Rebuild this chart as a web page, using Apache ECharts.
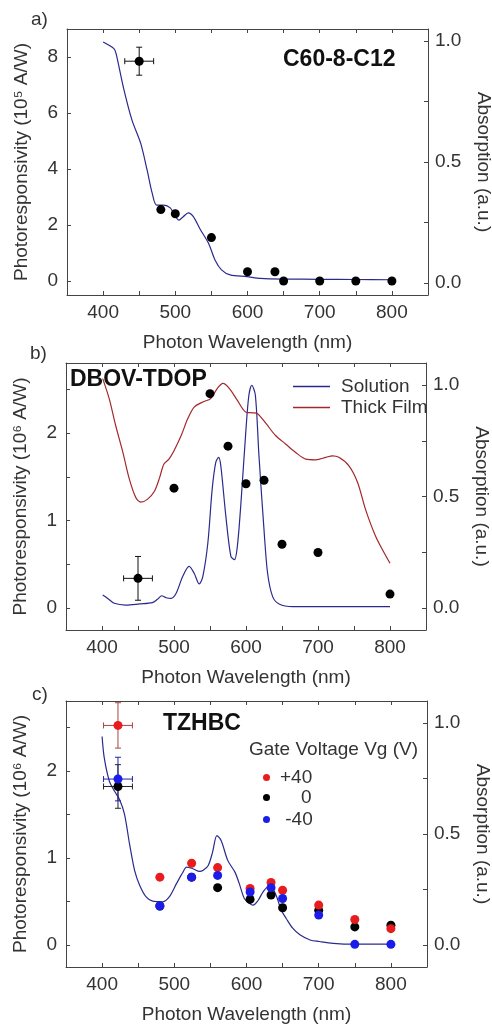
<!DOCTYPE html>
<html>
<head>
<meta charset="utf-8">
<script src="https://cdn.jsdelivr.net/npm/echarts@6/dist/echarts.min.js"></script>
<style>
  html, body { margin: 0; padding: 0; background: #fff; }
  #chart { width: 492px; height: 1025px; }
</style>
</head>
<body>
<div id="chart"></div>
<script>
// ---- panel a: C60-8-C12 ----
const wlA = [450, 480, 500, 550, 600, 638, 650, 700, 750, 800]
const respA = [7.85, 2.55, 2.4, 1.55, 0.33, 0.33, 0, 0, 0, 0]
const errA = [[450, 7.85, 20, 0.5]]
const absWlA = [400, 415, 418, 428, 440, 452, 461, 468, 474, 484, 493, 505, 511, 518, 525, 535, 546, 555, 564, 576, 599, 618, 650, 700, 750, 800]
const absA = [0.996, 0.969, 0.948, 0.81, 0.673, 0.578, 0.466, 0.371, 0.322, 0.322, 0.31, 0.26, 0.274, 0.29, 0.274, 0.219, 0.164, 0.095, 0.054, 0.033, 0.026, 0.019, 0.016, 0.015, 0.014, 0.013]

// ---- panel b: DBOV-TDOP ----
const wlB = [450, 500, 550, 575, 600, 625, 650, 700, 800]
const respB = [0.34, 1.37, 2.45, 1.85, 1.42, 1.46, 0.73, 0.635, 0.16]
const errB = [[450, 0.34, 20, 0.25]]
const solWlB = [401, 408, 417, 433, 452, 470, 477, 483, 489, 496, 503, 512, 521, 528, 535, 540, 547, 553, 558, 562, 565, 572, 579, 584, 588, 593, 600, 604, 608, 613, 618, 625, 630, 637, 646, 665, 720, 800]
const solB = [0.057, 0.042, 0.02, 0.012, 0.017, 0.023, 0.038, 0.054, 0.045, 0.042, 0.065, 0.14, 0.186, 0.155, 0.107, 0.14, 0.291, 0.532, 0.653, 0.676, 0.638, 0.412, 0.231, 0.216, 0.276, 0.472, 0.804, 0.955, 1.0, 0.955, 0.683, 0.351, 0.155, 0.05, 0.017, 0.005, 0.005, 0.005]
const filmWlB = [401, 410, 419, 429, 438, 447, 454, 463, 473, 480, 486, 493, 500, 510, 519, 528, 540, 551, 560, 568, 577, 588, 600, 609, 616, 628, 641, 655, 669, 683, 697, 711, 720, 729, 743, 755, 766, 780, 792, 800]
const filmB = [1.03, 0.94, 0.819, 0.698, 0.578, 0.495, 0.475, 0.487, 0.525, 0.585, 0.646, 0.668, 0.706, 0.774, 0.849, 0.902, 0.925, 0.94, 0.985, 1.008, 0.985, 0.932, 0.879, 0.876, 0.872, 0.827, 0.774, 0.736, 0.698, 0.668, 0.665, 0.676, 0.683, 0.676, 0.638, 0.563, 0.442, 0.321, 0.246, 0.2]

// ---- panel c: TZHBC ----
const wlC = [422, 480, 524, 560, 605, 634, 650, 700, 750, 800]
const posC = [2.52, 0.78, 0.94, 0.89, 0.65, 0.72, 0.63, 0.46, 0.295, 0.19]
const zeroC = [1.82, 0.45, 0.78, 0.66, 0.525, 0.575, 0.43, 0.40, 0.21, 0.23]
const negC = [1.905, 0.45, 0.78, 0.80, 0.61, 0.66, 0.535, 0.345, 0.01, 0.01]
const errPosC = [[422, 2.52, 20, 0.26]]
const errZeroC = [[422, 1.82, 20, 0.25]]
const errNegC = [[422, 1.905, 20, 0.25]]
const absWlC = [400, 403, 410, 417, 424, 431, 438, 445, 452, 461, 470, 484, 493, 503, 512, 517, 526, 535, 540, 547, 553, 559, 565, 574, 584, 590, 597, 604, 609, 616, 623, 630, 634, 641, 648, 655, 664, 674, 688, 701, 720, 748, 800]
const absC = [0.94, 0.843, 0.739, 0.694, 0.657, 0.59, 0.455, 0.336, 0.269, 0.216, 0.197, 0.194, 0.216, 0.276, 0.328, 0.351, 0.343, 0.331, 0.336, 0.358, 0.418, 0.493, 0.47, 0.381, 0.328, 0.276, 0.209, 0.187, 0.179, 0.2, 0.239, 0.261, 0.261, 0.224, 0.157, 0.119, 0.075, 0.045, 0.022, 0.015, 0.007, 0.003, 0.003]

const xLabels = [400, 500, 600, 700, 800]
const xTicks = [400, 450, 500, 550, 600, 650, 700, 750, 800]
const absTicks = [0, 0.25, 0.5, 0.75, 1]
const absLabels = [0, 0.5, 1]

const font = 'Liberation Sans, Arial, sans-serif'
const textColor = '#333'
const frameColor = '#444'
const navy = '#2a2a8e'
const darkRed = '#a3282c'

const grids = [
  { left: 67, top: 29, width: 361, height: 266, outerBoundsMode: 'none' },
  { left: 66, top: 363, width: 360, height: 267, outerBoundsMode: 'none' },
  { left: 66, top: 701, width: 361, height: 266, outerBoundsMode: 'none' },
]

function pairs(xs, ys) {
  return xs.map((x, i) => [x, ys[i]])
}

function frameLine() {
  return { show: true, onZero: false, lineStyle: { color: frameColor } }
}

function bottomAxis(g) {
  return {
    type: 'value', gridIndex: g, position: 'bottom', min: 350, max: 850,
    name: 'Photon Wavelength (nm)', nameLocation: 'middle', nameGap: 38,
    nameTextStyle: { fontSize: 19, color: textColor, fontFamily: font },
    axisLine: frameLine(),
    axisTick: { show: true, inside: true, length: 4, customValues: xTicks, lineStyle: { color: frameColor } },
    axisLabel: { customValues: xLabels, fontSize: 19, color: textColor, fontFamily: font, margin: 8 },
    splitLine: { show: false },
  }
}

function topAxis(g) {
  return {
    type: 'value', gridIndex: g, position: 'top', min: 350, max: 850,
    axisLine: frameLine(),
    axisTick: { show: true, inside: true, length: 4, customValues: xTicks, lineStyle: { color: frameColor } },
    axisLabel: { show: false },
    splitLine: { show: false },
  }
}

function leftAxis(g, min, max, ticks, labels, power) {
  return {
    type: 'value', gridIndex: g, position: 'left', min: min, max: max,
    name: `Photoresponsivity (10${power} A/W)`, nameLocation: 'middle', nameGap: 36,
    nameTextStyle: { fontSize: 19, color: textColor, fontFamily: font },
    axisLine: frameLine(),
    axisTick: { show: true, inside: true, length: 4, customValues: ticks, lineStyle: { color: frameColor } },
    axisLabel: { customValues: labels, fontSize: 19, color: textColor, fontFamily: font, margin: 9 },
    splitLine: { show: false },
  }
}

function rightAxis(g, min, max) {
  return {
    type: 'value', gridIndex: g, position: 'right', min: min, max: max,
    name: 'Absorption (a.u.)', nameLocation: 'middle', nameGap: 46, nameRotate: -90,
    nameTextStyle: { fontSize: 19, color: textColor, fontFamily: font },
    axisLine: frameLine(),
    axisTick: { show: true, inside: true, length: 4, customValues: absTicks, lineStyle: { color: frameColor } },
    axisLabel: {
      customValues: absLabels, fontSize: 19, color: textColor, fontFamily: font, margin: 7,
      formatter: (v) => Number(v).toFixed(1),
    },
    splitLine: { show: false },
  }
}

function renderErrorBar(params, api) {
  const x = api.value(0)
  const y = api.value(1)
  const dx = api.value(2)
  const dy = api.value(3)
  const l = api.coord([x - dx, y])
  const r = api.coord([x + dx, y])
  const t = api.coord([x, y + dy])
  const b = api.coord([x, y - dy])
  const cap = 3
  const style = { stroke: api.visual('color'), lineWidth: 1 }
  const seg = (x1, y1, x2, y2) => ({ type: 'line', shape: { x1, y1, x2, y2 }, style })
  return {
    type: 'group',
    children: [
      seg(l[0], l[1], r[0], r[1]),
      seg(l[0], l[1] - cap, l[0], l[1] + cap),
      seg(r[0], r[1] - cap, r[0], r[1] + cap),
      seg(t[0], t[1], b[0], b[1]),
      seg(t[0] - cap, t[1], t[0] + cap, t[1]),
      seg(b[0] - cap, b[1], b[0] + cap, b[1]),
    ],
  }
}

function errorSeries(name, data, color, x, y) {
  return {
    name, type: 'custom', xAxisIndex: x, yAxisIndex: y, z: 3,
    renderItem: renderErrorBar, itemStyle: { color },
    encode: { x: 0, y: 1 }, data, silent: true,
  }
}

function dots(name, data, color, x, y) {
  return {
    name, type: 'scatter', xAxisIndex: x, yAxisIndex: y, z: 4,
    symbolSize: 9, itemStyle: { color, opacity: 1 }, data,
  }
}

function absLine(name, data, color, x, y) {
  return {
    name, type: 'line', xAxisIndex: x, yAxisIndex: y, z: 2,
    showSymbol: false, smooth: 0.3, lineStyle: { color, width: 1.2 }, itemStyle: { color }, data,
  }
}

function caption(text, pos, style) {
  return Object.assign({ text, padding: 0, textStyle: Object.assign({ fontFamily: font, color: textColor, fontSize: 19, fontWeight: 'normal' }, style) }, pos)
}

function dotLegend(name, label, top) {
  return {
    data: [name], left: 263, top, padding: 0, icon: 'circle', itemWidth: 7, itemHeight: 7,
    formatter: () => label,
    textStyle: { fontSize: 19, color: textColor, fontFamily: font, padding: [0, 0, 0, 5] },
  }
}

function lineLegend(name, top) {
  return {
    data: [name], left: 293, top, padding: 0, icon: 'rect', itemWidth: 37, itemHeight: 1.4,
    textStyle: { fontSize: 19, color: textColor, fontFamily: font, padding: [0, 0, 0, 6] },
  }
}

const chart = echarts.init(document.getElementById('chart'), null, { renderer: 'canvas' })

chart.setOption({
  animation: false,
  backgroundColor: '#fff',
  grid: grids,
  title: [
    caption('a)', { left: 31, top: 10 }),
    caption('b)', { left: 30, top: 344 }),
    caption('c)', { left: 32, top: 685 }),
    caption('C60-8-C12', { left: 283, top: 48 }, { fontSize: 23, fontWeight: 'bold', color: '#111' }),
    caption('DBOV-TDOP', { left: 70, top: 368 }, { fontSize: 23, fontWeight: 'bold', color: '#111' }),
    caption('TZHBC', { left: 163, top: 712 }, { fontSize: 23, fontWeight: 'bold', color: '#111' }),
    caption('Gate Voltage Vg (V)', { left: 249, top: 740 }),
  ],
  legend: [
    lineLegend('Solution', 377),
    lineLegend('Thick Film', 398),
    dotLegend('+40', '+40', 768),
    dotLegend('0', '    0', 788),
    dotLegend('-40', ' -40', 810),
  ],
  xAxis: [
    bottomAxis(0), topAxis(0),
    bottomAxis(1), topAxis(1),
    bottomAxis(2), topAxis(2),
  ],
  yAxis: [
    leftAxis(0, -0.5, 9, [0, 2, 4, 6, 8], [0, 2, 4, 6, 8], '⁵'), rightAxis(0, -0.05, 1.05),
    leftAxis(1, -0.25, 2.8, [0, 0.5, 1, 1.5, 2, 2.5], [0, 1, 2], '⁶'), rightAxis(1, -0.1, 1.1),
    leftAxis(2, -0.25, 2.8, [0, 0.5, 1, 1.5, 2, 2.5], [0, 1, 2], '⁶'), rightAxis(2, -0.1, 1.1),
  ],
  series: [
    // a
    absLine('absA', pairs(absWlA, absA), navy, 0, 1),
    errorSeries('errA', errA, '#111', 0, 0),
    dots('respA', pairs(wlA, respA), '#000', 0, 0),
    // b
    absLine('Solution', pairs(solWlB, solB), navy, 2, 3),
    absLine('Thick Film', pairs(filmWlB, filmB), darkRed, 2, 3),
    errorSeries('errB', errB, '#111', 2, 2),
    dots('respB', pairs(wlB, respB), '#000', 2, 2),
    // c
    absLine('absC', pairs(absWlC, absC), navy, 4, 5),
    errorSeries('errZeroC', errZeroC, '#222', 4, 4),
    errorSeries('errPosC', errPosC, '#a84444', 4, 4),
    errorSeries('errNegC', errNegC, '#2424a8', 4, 4),
    dots('0', pairs(wlC, zeroC), '#000', 4, 4),
    dots('+40', pairs(wlC, posC), '#e81c1c', 4, 4),
    dots('-40', pairs(wlC, negC), '#1c1ce8', 4, 4),
  ],
})
</script>
</body>
</html>
